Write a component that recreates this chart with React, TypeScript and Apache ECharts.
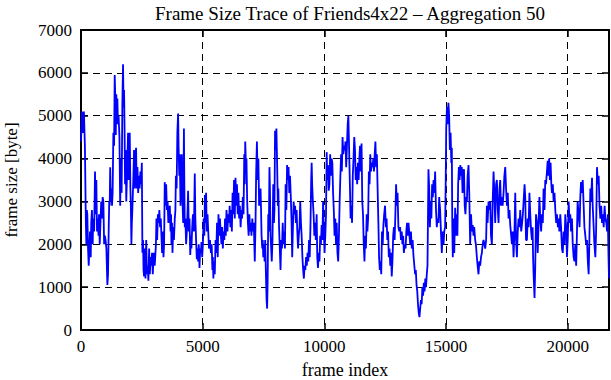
import React, { useEffect, useRef } from "react";
import * as echarts from "echarts";

const titleText = "Frame Size Trace of Friends4x22 – Aggregation 50";
const xName = "frame index";
const yName = "frame size [byte]";
const xMax = 21700;
const yMax = 7000;

// [frame index, frame size] pairs
const seg1: number[][] = [
  [0, 4400], [40, 5100], [80, 4600], [120, 5100], [160, 4300], [200, 2500], [220, 2000], [240, 2800], [260, 2700], [290, 1900],
  [316, 1500], [340, 1800], [370, 2300], [400, 1700], [420, 2500], [450, 2800], [480, 2000], [500, 2600], [540, 2300], [576, 3700],
  [600, 2700], [630, 3500], [658, 2300], [690, 2600], [720, 2200], [740, 2700], [770, 2000], [800, 2500], [830, 3000], [860, 2600],
  [890, 3100], [920, 3000], [950, 2000], [980, 2200], [1010, 2100], [1043, 1900], [1084, 1050], [1111, 1300], [1140, 2400], [1160, 3000],
  [1180, 2900], [1200, 3800], [1225, 3000], [1250, 3300], [1275, 2900], [1300, 3200], [1330, 4600], [1360, 4300], [1385, 5950], [1410, 5400],
  [1430, 4550], [1450, 5500], [1470, 4800], [1495, 5400], [1520, 4800], [1545, 5000], [1580, 4500], [1610, 2900], [1640, 4000], [1670, 3200],
  [1700, 5300], [1728, 6200], [1750, 5200], [1770, 5600], [1790, 4700], [1810, 3400], [1840, 4200], [1860, 3000], [1890, 3600], [1934, 4600],
  [1960, 3500], [1980, 4000], [2003, 4600], [2030, 3300], [2050, 2850], [2071, 2000], [2090, 2500], [2110, 2800], [2150, 3500], [2180, 4200],
  [2210, 3300], [2240, 4000], [2263, 4250], [2290, 3300], [2320, 3800], [2350, 3200], [2380, 3600], [2410, 3300], [2440, 3700], [2470, 3400],
  [2500, 3900], [2524, 1800], [2550, 2100], [2570, 1400], [2592, 1250], [2620, 1900], [2650, 1200], [2680, 2100], [2710, 1300], [2740, 1500],
  [2770, 1150], [2800, 1900], [2830, 1300], [2860, 1700], [2890, 1500], [2920, 1800], [2950, 1300], [2990, 1800], [3030, 1500], [3080, 2000],
  [3100, 2600], [3130, 2100], [3160, 2700], [3190, 2500], [3220, 2800], [3250, 2400], [3280, 2600], [3305, 2200], [3333, 1800], [3360, 2300],
  [3390, 1700], [3415, 2000], [3442, 3450], [3470, 2900], [3500, 3400], [3530, 2800], [3560, 3000], [3590, 2500], [3620, 2800],
];
const seg2: number[][] = [
  [3650, 2900], [3680, 2300], [3700, 2700], [3717, 2000], [3740, 2500], [3760, 1800], [3790, 2400], [3820, 2100], [3854, 2600], [3880, 2800],
  [3900, 3600], [3930, 3300], [3960, 4600], [3991, 5050], [4010, 4300], [4040, 3600], [4060, 4100], [4090, 2900], [4110, 3500], [4140, 4100],
  [4170, 3000], [4200, 2500], [4230, 4700], [4250, 3200], [4265, 2400], [4290, 2600], [4320, 2000], [4350, 2300], [4380, 2800], [4402, 3250],
  [4430, 2300], [4460, 2600], [4490, 1750], [4520, 2200], [4539, 1900], [4570, 2400], [4600, 2700], [4640, 2300], [4676, 3650], [4700, 2600],
  [4730, 2100], [4760, 1650], [4790, 1900], [4813, 1600], [4840, 2000], [4870, 1450], [4900, 1900], [4930, 1800], [4950, 2050], [4980, 1700],
  [5010, 2000], [5040, 2600], [5070, 2200], [5090, 3150], [5110, 2500], [5140, 3200], [5170, 2300], [5200, 2700], [5230, 2300], [5260, 1900],
  [5300, 2100], [5340, 1800], [5370, 2000], [5400, 1400], [5420, 1700], [5440, 1200], [5470, 1600], [5498, 1300], [5530, 2100], [5560, 1800],
  [5590, 2500], [5620, 1700], [5650, 2700], [5680, 2200], [5710, 2600], [5740, 2300], [5772, 2000], [5800, 2400], [5830, 1900], [5860, 2300],
  [5890, 2100], [5920, 2600], [5950, 2200], [5980, 2800], [6020, 2300], [6046, 2700], [6080, 2500], [6110, 2900], [6140, 2400], [6170, 2800],
  [6200, 2300], [6230, 3200], [6260, 2700], [6290, 3500], [6320, 2600], [6350, 3550], [6380, 2900], [6410, 3400], [6440, 2700], [6470, 3200],
  [6500, 2600], [6530, 2900], [6560, 2400], [6594, 2800], [6620, 2600], [6650, 3100], [6680, 2700], [6710, 4100], [6731, 3400], [6750, 4400],
  [6780, 3800], [6800, 4000], [6830, 3000], [6860, 2500], [6890, 2200], [6920, 2700], [6950, 2300], [6980, 2500], [7005, 2200], [7040, 2600],
  [7070, 2300], [7100, 2500], [7142, 1600], [7170, 2400], [7200, 3700], [7230, 4400], [7260, 3500], [7290, 4000], [7320, 2900], [7350, 3000],
];
const seg3: number[][] = [
  [7380, 3300], [7400, 2800], [7421, 2200], [7450, 1900], [7470, 2100], [7490, 1700], [7520, 2000], [7545, 1600], [7570, 2100], [7600, 1300],
  [7627, 700], [7650, 500], [7670, 1100], [7696, 2700], [7720, 2300], [7745, 3800], [7764, 3300], [7790, 2200], [7815, 1900], [7840, 1600],
  [7870, 2100], [7901, 3400], [7930, 2500], [7950, 2800], [7975, 4650], [8000, 4200], [8030, 4700], [8060, 3900], [8090, 2900], [8110, 3300],
  [8140, 2400], [8170, 1900], [8200, 1400], [8230, 2100], [8260, 1900], [8290, 2500], [8320, 2000], [8350, 2300], [8382, 1900], [8410, 3400],
  [8440, 2800], [8470, 3850], [8500, 3500], [8530, 3800], [8560, 3200], [8590, 3600], [8620, 3150], [8650, 2600], [8680, 1700], [8710, 2400],
  [8740, 3000], [8770, 2700], [8800, 2900], [8830, 2500], [8862, 2800], [8890, 2300], [8920, 1900], [8950, 2200], [8980, 2400], [9010, 3000],
  [9040, 2500], [9068, 2200], [9100, 1700], [9130, 1400], [9160, 1200], [9190, 1500], [9220, 1400], [9250, 1700], [9280, 1500], [9310, 1800],
  [9342, 1600], [9370, 2100], [9400, 1700], [9430, 2400], [9460, 3500], [9480, 3900], [9500, 3400], [9530, 3000], [9560, 2700], [9590, 2200],
  [9616, 2500], [9650, 2100], [9685, 2700], [9710, 1700], [9740, 1450], [9770, 1800], [9800, 1600], [9830, 2200], [9860, 2000], [9891, 2450],
  [9920, 2100], [9950, 3000], [9980, 2300], [10010, 1800], [10040, 2200], [10070, 2700], [10097, 4150], [10120, 3500], [10150, 3850], [10180, 3250],
  [10210, 3400], [10240, 4100], [10270, 3600], [10300, 4000], [10330, 3900], [10360, 3200], [10390, 2800], [10420, 2200], [10450, 2600], [10480, 2000],
  [10508, 2500], [10540, 1800], [10570, 1600], [10600, 2200], [10630, 3000], [10660, 3600], [10690, 4100], [10720, 3700], [10750, 4500], [10780, 4100],
  [10810, 4300], [10840, 4200], [10870, 4400], [10900, 3800], [10930, 4300], [10960, 4800], [10988, 5000], [11020, 4200], [11050, 3400],
];
const seg4: number[][] = [
  [11080, 2600], [11110, 2900], [11140, 2500], [11170, 3600], [11200, 4000], [11230, 4500], [11261, 4200], [11290, 3500], [11320, 3800], [11350, 3400],
  [11380, 3900], [11410, 3500], [11440, 4000], [11467, 4300], [11500, 3700], [11530, 4350], [11560, 3000], [11590, 2700], [11620, 2000], [11650, 1600],
  [11680, 2200], [11710, 1900], [11742, 2700], [11770, 2300], [11800, 2600], [11830, 3700], [11860, 3400], [11890, 4100], [11920, 3700], [11950, 3900],
  [11980, 3800], [12016, 4000], [12040, 3700], [12070, 4100], [12100, 4400], [12130, 3800], [12160, 4100], [12190, 3300], [12222, 2500], [12250, 1700],
  [12280, 1400], [12310, 1600], [12340, 1300], [12370, 2300], [12400, 2000], [12428, 2450], [12460, 2700], [12496, 2900], [12530, 2400], [12560, 2600],
  [12590, 2100], [12620, 2300], [12650, 1700], [12680, 1900], [12710, 1500], [12740, 1800], [12771, 1250], [12800, 1600], [12830, 2200], [12860, 2400],
  [12890, 2100], [12920, 2700], [12950, 3400], [12976, 2900], [13010, 3200], [13045, 2400], [13080, 2300], [13114, 2400], [13150, 2100], [13182, 2300],
  [13210, 2000], [13240, 2200], [13270, 1800], [13300, 2000], [13340, 1900], [13370, 2300], [13400, 2500], [13430, 2200], [13460, 2500], [13500, 2200],
  [13530, 2000], [13560, 2300], [13594, 1900], [13630, 2100], [13662, 1750], [13700, 1500], [13731, 1300], [13760, 1400], [13790, 1050], [13820, 900],
  [13850, 600], [13880, 400], [13910, 300], [13940, 500], [13970, 700], [14000, 600], [14030, 1000], [14060, 800], [14090, 1100], [14120, 900],
  [14150, 1200], [14180, 1000], [14211, 1300], [14240, 1500], [14260, 2600], [14280, 3750], [14310, 3300], [14340, 2400], [14370, 3000], [14400, 2600],
  [14430, 3400], [14460, 3100], [14490, 3500], [14520, 3200], [14554, 3700], [14590, 2800], [14623, 2400], [14650, 2600], [14690, 2500], [14720, 3100],
  [14760, 2800],
];
const seg5: number[][] = [
  [14800, 2200], [14830, 1800], [14860, 2300], [14900, 2000], [14930, 2300], [14965, 2400], [14990, 3500], [15010, 4700], [15040, 5200], [15070, 4800],
  [15100, 5300], [15130, 5000], [15160, 4200], [15190, 4600], [15220, 3900], [15240, 4250], [15260, 2400], [15280, 1700], [15310, 2600], [15340, 1800],
  [15377, 2850], [15410, 2200], [15440, 2700], [15470, 2200], [15500, 3400], [15530, 3800], [15560, 3500], [15590, 3850], [15620, 3600], [15651, 3800],
  [15680, 3200], [15710, 3700], [15740, 3750], [15770, 2900], [15800, 2700], [15830, 3100], [15860, 3000], [15890, 3600], [15926, 3850], [15960, 3100],
  [15994, 2000], [16030, 2700], [16063, 2300], [16100, 2450], [16132, 2200], [16160, 2400], [16200, 2100], [16230, 2000], [16269, 1700], [16300, 1500],
  [16337, 1300], [16370, 1600], [16406, 1500], [16440, 1700], [16475, 1800], [16510, 2000], [16543, 2100], [16580, 2000], [16612, 1900], [16650, 2100],
  [16680, 2900], [16710, 2500], [16749, 3000], [16790, 2800], [16818, 3000], [16850, 2200], [16886, 2000], [16920, 3000], [16955, 3700], [16990, 3200],
  [17023, 2500], [17060, 3400], [17092, 3500], [17130, 2800], [17161, 2500], [17200, 3300], [17229, 3500], [17260, 2900], [17298, 3100], [17330, 2900],
  [17366, 3200], [17400, 3600], [17435, 3800], [17470, 3300], [17504, 2900], [17540, 3200], [17572, 2600], [17610, 2800], [17641, 2450], [17680, 2200],
  [17709, 2000], [17740, 2300], [17778, 1700], [17820, 2400], [17847, 3200], [17880, 2100], [17915, 1700], [17950, 2300], [17984, 2600], [18020, 2400],
  [18052, 2800], [18090, 2300], [18121, 2450], [18160, 2700], [18190, 3000], [18230, 3400], [18258, 3100], [18290, 2100], [18327, 2100], [18360, 2600],
  [18395, 2400], [18430, 3200],
];
const seg6: number[][] = [
  [18464, 2700], [18500, 2300], [18532, 2100], [18560, 2400], [18580, 1700], [18601, 1300], [18640, 750], [18669, 1500], [18700, 2700], [18738, 2500],
  [18770, 1800], [18807, 2500], [18840, 3100], [18875, 2600], [18910, 2300], [18944, 2700], [18980, 2500], [19012, 3300], [19050, 2800], [19081, 3500],
  [19110, 3400], [19150, 3700], [19180, 3950], [19210, 3600], [19240, 4000], [19270, 3500], [19300, 3900], [19330, 3400], [19355, 3200], [19390, 3400],
  [19424, 3000], [19460, 3200], [19493, 2800], [19530, 2500], [19561, 2700], [19600, 2400], [19630, 2600], [19660, 2300], [19698, 2700], [19730, 2400],
  [19767, 1900], [19800, 1800], [19836, 2300], [19870, 2000], [19904, 2700], [19940, 2400], [19973, 1700], [20010, 2200], [20041, 3000], [20080, 2500],
  [20110, 2700], [20140, 2300], [20178, 2600], [20210, 2000], [20247, 1700], [20280, 1600], [20316, 2000], [20350, 1500], [20384, 2300], [20410, 3000],
  [20453, 2700], [20490, 2400], [20521, 3100], [20550, 3450], [20590, 3200], [20620, 3500], [20659, 2900], [20690, 2400], [20727, 2200], [20760, 2000],
  [20796, 2100], [20830, 1600], [20864, 1300], [20890, 2000], [20933, 3300], [20960, 3000], [21002, 3550], [21030, 2900], [21070, 2400], [21100, 2000],
  [21139, 1700], [21170, 2300], [21207, 3800], [21240, 3400], [21276, 3600], [21310, 2900], [21345, 2600], [21380, 2900], [21413, 2500], [21450, 2700],
  [21482, 2400], [21520, 2900], [21550, 2600], [21590, 2500], [21619, 2300], [21650, 2700], [21680, 1700], [21700, 1200],
];

const trace = [...seg1, ...seg2, ...seg3, ...seg4, ...seg5, ...seg6];

const FONT = "Liberation Serif";

export default function App() {
  const ref = useRef<HTMLDivElement>(null);
  useEffect(() => {
    if (!ref.current) return;
    const chart = echarts.init(ref.current, undefined, { renderer: "svg" });
    const axisLine = { show: true, onZero: false, lineStyle: { color: "#000", width: 2 } };
    const tick = { show: true, inside: true, length: 7, lineStyle: { color: "#000", width: 1.5 } };
    const grid = { show: true, color: "#000", width: 1 };
    chart.setOption({
      animation: false,
      backgroundColor: "#fff",
      title: {
        text: titleText,
        left: 345,
        top: -1,
        textAlign: "center",
        textStyle: { fontFamily: FONT, fontSize: 19, fontWeight: "normal", color: "#000" },
      },
      grid: { left: 81, right: 2, top: 30, bottom: 50, outerBoundsMode: "none" },
      xAxis: [
        {
          type: "value",
          min: 0,
          max: xMax,
          interval: 5000,
          name: xName,
          nameLocation: "middle",
          nameGap: 31,
          nameTextStyle: { fontFamily: FONT, fontSize: 18, color: "#000" },
          axisLine,
          axisTick: tick,
          axisLabel: {
            fontFamily: FONT,
            fontSize: 17,
            color: "#000",
            margin: 8,
            formatter: (v: number) => (v % 5000 === 0 ? String(v) : ""),
          },
          splitLine: { show: true, lineStyle: { ...grid, type: [7, 5] } },
        },
        {
          type: "value",
          position: "top",
          min: 0,
          max: xMax,
          interval: 5000,
          axisLine,
          axisTick: tick,
          axisLabel: { show: false },
          splitLine: { show: false },
        },
      ],
      yAxis: [
        {
          type: "value",
          min: 0,
          max: yMax,
          interval: 1000,
          name: yName,
          nameLocation: "middle",
          nameGap: 61,
          nameTextStyle: { fontFamily: FONT, fontSize: 17, color: "#000" },
          axisLine,
          axisTick: tick,
          axisLabel: {
            fontFamily: FONT,
            fontSize: 17,
            color: "#000",
            margin: 9,
            formatter: (v: number) => String(v),
          },
          splitLine: { show: true, lineStyle: { ...grid, type: [7, 5] } },
        },
        {
          type: "value",
          position: "right",
          min: 0,
          max: yMax,
          interval: 1000,
          axisLine,
          axisTick: tick,
          axisLabel: { show: false },
          splitLine: { show: false },
        },
      ],
      series: [
        {
          type: "line",
          data: trace,
          showSymbol: false,
          symbol: "none",
          lineStyle: { color: "#0000ff", width: 1.8 },
          z: 1,
        },
      ],
    });
    return () => chart.dispose();
  }, []);
  return (
    <div
      ref={ref}
      style={{ position: "fixed", left: 0, top: 0, width: 611, height: 380, background: "#fff" }}
    />
  );
}
